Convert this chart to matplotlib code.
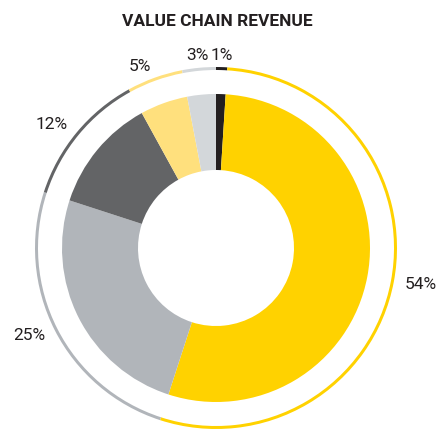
import math
import matplotlib
matplotlib.use("Agg")
import matplotlib.pyplot as plt

# Data
labels = ["1%", "54%", "25%", "12%", "5%", "3%"]
values = [1, 54, 25, 12, 5, 3]
colors = ["#231f20", "#ffd200", "#b1b5ba", "#636466", "#ffe07d", "#d3d7da"]

plt.rcParams['font.family'] = ['Roboto', 'Liberation Sans', 'DejaVu Sans']

fig = plt.figure(figsize=(4.36, 4.33), dpi=100)
ax = fig.add_axes([0, 0, 1, 1])

cx, cy = 216, 433 - 248

# main donut
ax.pie(values, colors=colors, startangle=90, counterclock=False,
       radius=154, center=(cx, cy), frame=True,
       wedgeprops=dict(width=76, linewidth=0))

# thin outer ring
wedges, _ = ax.pie(values, colors=colors, startangle=90, counterclock=False,
                   radius=181, center=(cx, cy), frame=True,
                   wedgeprops=dict(width=3, linewidth=0))

# labels outside the ring
for w, lab in zip(wedges, labels):
    ang = math.radians((w.theta1 + w.theta2) / 2)
    c, s = math.cos(ang), math.sin(ang)
    x = cx + 192 * c
    y = cy + 193 * s
    if c > 0.1:
        ha = "left"
    elif c < -0.1:
        ha = "right"
    else:
        ha = "center"
    ax.text(x, y, lab, ha=ha, va="center", fontsize=12.5, color="#231f20")

ax.set_xlim(0, 436)
ax.set_ylim(0, 433)
ax.set_aspect("equal")
ax.axis("off")

fig.text(0.498, 1 - 22 / 433, "VALUE CHAIN REVENUE", ha="center", va="center",
         fontsize=12.5, fontweight="bold", color="#231f20")

fig.savefig("out.png", dpi=100)
